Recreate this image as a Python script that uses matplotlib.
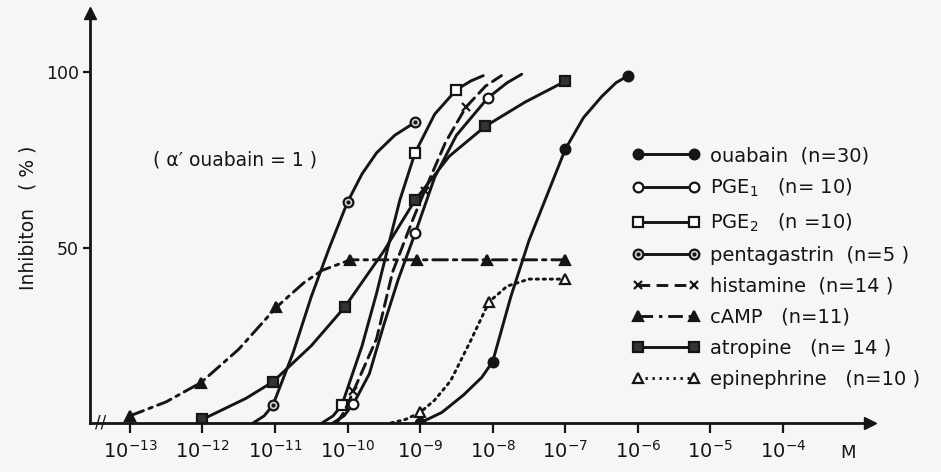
import numpy as np
import matplotlib
matplotlib.use("Agg")
import matplotlib.pyplot as plt
from matplotlib.ticker import NullLocator

# concentrations are given as log10(M); y values are % inhibition
ouab_mx = [-9.0, -8.0, -7.0, -6.13]
ouab_my = [0, 17.5, 78, 99]
ouab_cx = [-9.0, -8.7, -8.4, -8.15, -8.0, -7.75, -7.5, -7.25, -7.0, -6.75, -6.5, -6.3, -6.13]
ouab_cy = [0, 3, 8, 13, 17.5, 36, 52, 65, 78, 87, 93, 97, 99]

pge1_mx = [-9.92, -9.07, -8.07]
pge1_my = [5.4, 54, 92.6]
pge1_cx = [-10.2, -10.05, -9.92, -9.7, -9.5, -9.3, -9.07, -8.8, -8.5, -8.07, -7.8, -7.6]
pge1_cy = [0, 2, 5.4, 14, 28, 41, 54, 70, 82, 92.6, 97, 99.4]

pge2_mx = [-10.08, -9.07, -8.5]
pge2_my = [5, 77, 95]
pge2_cx = [-10.35, -10.2, -10.08, -9.8, -9.6, -9.42, -9.28, -9.07, -8.8, -8.5, -8.3, -8.13]
pge2_cy = [0, 2, 5, 22, 37, 52, 63.5, 77, 88, 95, 97.5, 99]

penta_mx = [-11.03, -10.0, -9.07]
penta_my = [5, 63, 85.7]
penta_cx = [-11.3, -11.15, -11.03, -10.75, -10.5, -10.25, -10.0, -9.8, -9.6, -9.35, -9.07]
penta_cy = [0, 2, 5, 20, 36, 50, 63, 71, 77, 82, 85.7]

hist_mx = [-9.92, -8.93, -8.37]
hist_my = [9, 66, 90]
hist_cx = [-10.15, -10.05, -9.92, -9.6, -9.38, -9.1, -8.9, -8.65, -8.37, -8.1, -7.88]
hist_cy = [0, 3, 9, 24, 43, 58, 68, 80, 90, 96, 99]

camp_mx = [-13.0, -12.02, -10.98, -9.96, -9.05, -8.08, -7.0]
camp_my = [2, 11.5, 33, 46.5, 46.5, 46.5, 46.5]
camp_cx = [-13.0, -12.5, -12.02, -11.5, -10.98, -10.6, -10.35, -9.96, -9.05, -8.08, -7.0]
camp_cy = [2, 6, 11.5, 21, 33, 40, 43.5, 46.5, 46.5, 46.5, 46.5]

atro_mx = [-12.0, -11.03, -10.04, -9.07, -8.1, -7.0]
atro_my = [1, 11.7, 33, 63.5, 84.6, 97.4]
atro_cx = [-12.0, -11.7, -11.4, -11.03, -10.5, -10.04, -9.5, -9.07, -8.6, -8.1, -7.55, -7.0]
atro_cy = [1, 4, 7, 11.7, 22, 33, 49, 63.5, 76, 84.6, 91.5, 97.4]

epi_mx = [-9.0, -8.05, -7.0]
epi_my = [3, 34.5, 41]
epi_cx = [-9.4, -9.2, -9.0, -8.8, -8.58, -8.3, -8.05, -7.8, -7.5, -7.0]
epi_cy = [0, 1, 3, 6.5, 12, 23.6, 34.5, 39, 41, 41]

labels = ["ouabain  (n=30)", "PGE$_1$   (n= 10)", "PGE$_2$   (n =10)",
          "pentagastrin  (n=5 )", "histamine  (n=14 )", "cAMP   (n=11)",
          "atropine   (n= 14 )", "epinephrine   (n=10 )"]

tick_exp = [-13, -12, -11, -10, -9, -8, -7, -6, -5, -4]

plt.rcParams["font.family"] = ["DejaVu Sans"]
plt.rcParams["mathtext.default"] = "regular"

bg = "#f6f6f4"
ink = "#151515"
fig = plt.figure(figsize=(9.41, 4.72), dpi=100, facecolor=bg)
ax = fig.add_axes([0.0956, 0.104, 0.829, 0.868], facecolor=bg)

lw = 2.1
ms = 7


def conc(v):
    return 10.0 ** np.array(v)


def series(cx, cy, mx, my, ls, marker, mfc, msz=ms):
    ax.plot(conc(cx), cy, color=ink, lw=lw, linestyle=ls, solid_capstyle="round",
            dash_capstyle="round")
    ax.plot(conc(mx), my, linestyle="none", marker=marker, ms=msz,
            mfc=mfc, mec=ink, mew=1.6)
    leg, = ax.plot([], [], color=ink, lw=lw, linestyle=ls, marker=marker, ms=msz,
                   mfc=mfc, mec=ink, mew=1.6)
    return leg


dash = (0, (4, 2.2))
dashdot = (0, (5, 2, 1.2, 2))
dots = (0, (0.8, 1.6))

handles = []
handles.append(series(ouab_cx, ouab_cy, ouab_mx, ouab_my, "-", "o", ink))
handles.append(series(pge1_cx, pge1_cy, pge1_mx, pge1_my, "-", "o", "white"))
handles.append(series(pge2_cx, pge2_cy, pge2_mx, pge2_my, "-", "s", "white", 6.5))
h_p = series(penta_cx, penta_cy, penta_mx, penta_my, "-", "o", "#d8d8d8")
ax.plot(conc(penta_mx), penta_my, "o", color=ink, ms=2)
dot_leg, = ax.plot([], [], "o", color=ink, ms=2)
handles.append((h_p, dot_leg))
handles.append(series(hist_cx, hist_cy, hist_mx, hist_my, dash, "x", ink, 6))
handles.append(series(camp_cx, camp_cy, camp_mx, camp_my, dashdot, "^", ink))
handles.append(series(atro_cx, atro_cy, atro_mx, atro_my, "-", "s", "#333333"))
handles.append(series(epi_cx, epi_cy, epi_mx, epi_my, dots, "^", "white"))

ax.set_xscale("log")
ax.set_xlim(10 ** -13.55, 10 ** -2.8)
ax.set_ylim(0, 116.8)

ax.spines["top"].set_visible(False)
ax.spines["right"].set_visible(False)
for s in ("left", "bottom"):
    ax.spines[s].set_linewidth(2)
    ax.spines[s].set_color(ink)
ax.plot(0, 1, "^", color=ink, ms=8, transform=ax.transAxes, clip_on=False)
ax.plot(1, 0, ">", color=ink, ms=8, transform=ax.transAxes, clip_on=False)

ax.set_xticks(conc(tick_exp))
ax.set_xticklabels(["$10^{%d}$" % e for e in tick_exp], fontsize=14)
ax.xaxis.set_minor_locator(NullLocator())
ax.set_yticks([50, 100])
ax.set_yticklabels(["50", "100"], fontsize=12.5)
ax.tick_params(axis="x", length=7, width=1.6, color=ink, pad=5, labelcolor=ink)
ax.tick_params(axis="y", length=5, width=1.6, color=ink, pad=3, labelcolor=ink)

ax.set_ylabel("Inhibiton   ( % )", fontsize=13.5, color=ink, labelpad=6)
ax.text(10 ** -13.4, 0, "//", fontsize=12, ha="center", va="center", color=ink)
ax.text(10 ** -3.1, -6, "M", fontsize=13, ha="center", va="top", color=ink)
ax.text(10 ** -12.68, 75, "( \u03b1\u2032 ouabain = 1 )", fontsize=13.5, ha="left",
        va="center", color=ink)

fig.legend(handles, labels, loc="upper left", bbox_to_anchor=(632 / 941, 1 - 146 / 472),
           frameon=False, fontsize=14, numpoints=2, handlelength=3.5,
           handletextpad=0.5, labelspacing=0.62, borderpad=0, borderaxespad=0,
           labelcolor=ink)

fig.savefig("out.png", dpi=100, facecolor=bg)
